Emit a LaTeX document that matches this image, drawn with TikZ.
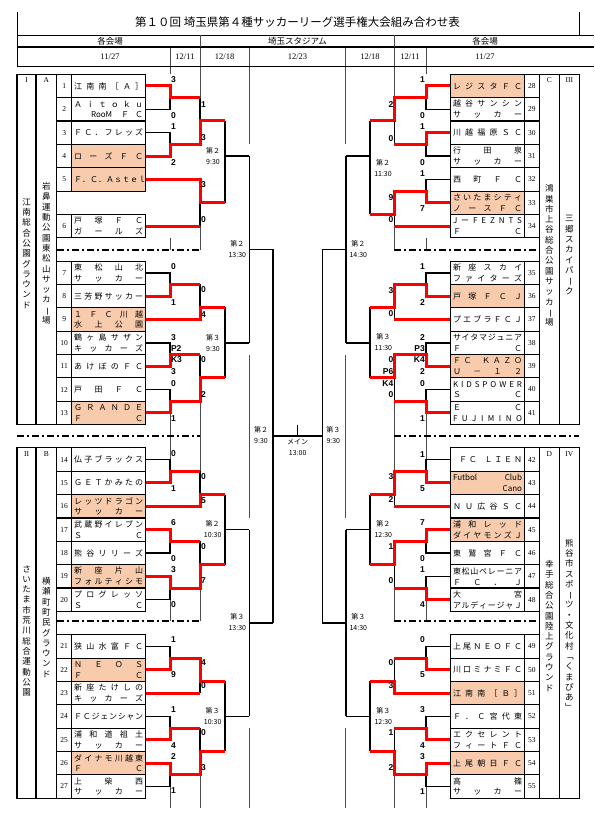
\documentclass[tikz,border=0pt]{standalone}
\usepackage{fontspec}
\setmainfont{Noto Sans CJK JP}
\newfontfamily\lsans{Liberation Sans}
\newfontfamily\lserif{Liberation Serif}
\usepackage{graphicx}
\definecolor{orng}{RGB}{248,203,173}
\newcounter{nn}
\newcommand\spr[1]{\makebox[69pt][s]{\spaceskip=0pt plus 1fil\relax #1}}
\newcommand\rb{\rotatebox[origin=c]{-90}{ー}}
\tikzset{
 nbox/.style={draw, line width=1.1pt, minimum width=15pt, minimum height=23.35pt, inner sep=0pt, font=\lserif\fontsize{7.5}{8}\selectfont},
 tbox/.style={draw, line width=1.1pt, minimum width=74pt, minimum height=23.35pt, inner sep=0pt, align=center, font=\fontsize{8}{10.8}\selectfont},
 win/.style={fill=orng},
 rl/.style={draw=red, line width=3pt, line join=miter},
 bl/.style={draw=black, line width=1.6pt},
 gl/.style={draw=black!70, line width=0.7pt},
 frm/.style={draw=black, line width=1.1pt},
 dd/.style={line width=1.3pt, dash pattern=on 7pt off 3pt on 2pt off 3pt},
 sc/.style={font=\lsans\bfseries\fontsize{8.5}{9}\selectfont, inner sep=0pt},
 tm/.style={font=\fontsize{7}{11}\selectfont, align=center, inner sep=0pt},
 vt/.style={font=\fontsize{8.5}{10.3}\selectfont, align=center, inner sep=0pt},
 lt/.style={font=\lserif\fontsize{7.5}{8}\selectfont, inner sep=0pt},
 hd/.style={font=\fontsize{8.5}{9}\selectfont, inner sep=0pt},
 dt/.style={font=\lserif\fontsize{8.5}{9}\selectfont, inner sep=0pt},
}
\newcommand\LT[4]{\node[nbox] (n#1) at (64.2,#2) {#1};\node[tbox,#3] (t#1) at (108.7,#2) {#4};}
\newcommand\RT[4]{\node[nbox] (n#1) at (531.8,#2) {#1};\node[tbox,#3] (t#1) at (487.5,#2) {#4};}
\newcommand\SW[3]{\stepcounter{nn}\node[sc,anchor=west] (s\thenn) at (#1,#2) {#3};}
\newcommand\SE[3]{\stepcounter{nn}\node[sc,anchor=east] (s\thenn) at (#1,#2) {#3};}
\newcommand\TM[4]{\stepcounter{nn}\node[tm] (m\thenn) at (#1,#2) {#3\\#4};}
\begin{document}
\begin{tikzpicture}[x=1pt,y=-1pt]
\useasboundingbox (0,0) rectangle (594,818);
\fill[white] (0,0) rectangle (594,818);
% grid lines
\draw[gl] (170,47) -- (170,74.3) (170,237.75) -- (170,250) (170,412.88) -- (170,459.58) (170,599.68) -- (170,621) (170,786.48) -- (170,808);
\draw[gl] (200,47) -- (200,97.65) (200,226.08) -- (200,250) (200,401.2) -- (200,471.25) (200,588) -- (200,621) (200,774.8) -- (200,808);
\draw[gl] (249.3,47) -- (249.3,144.35) (249.3,354.5) -- (249.3,517.95) (249.3,728.1) -- (249.3,808);
\draw[gl] (426,47) -- (426,74.3) (426,237.75) -- (426,250) (426,412.88) -- (426,459.58) (426,599.68) -- (426,621) (426,786.48) -- (426,808);
\draw[gl] (394.3,47) -- (394.3,97.65) (394.3,226.08) -- (394.3,250) (394.3,401.2) -- (394.3,471.25) (394.3,588) -- (394.3,621) (394.3,774.8) -- (394.3,808);
\draw[gl] (345.7,47) -- (345.7,144.35) (345.7,354.5) -- (345.7,517.95) (345.7,728.1) -- (345.7,808);
% header
\draw[line width=1pt] (17,12) -- (17,66);
\draw[line width=1pt] (579.3,12) -- (579.3,35.5);
\draw[line width=1.5pt] (17,35.5) -- (594,35.5) (17,47) -- (594,47);
\draw[line width=0.8pt] (17,66) -- (594,66);
\draw[gl] (200,35.5) -- (200,47) (394.3,35.5) -- (394.3,47);
\node[font=\fontsize{11.5}{13}\selectfont, inner sep=0pt] (ttl) at (297.5,22.5) {第１０回 埼玉県第４種サッカーリーグ選手権大会組み合わせ表};
\node[hd] (h1) at (110,41.3) {各会場};
\node[hd] (h2) at (297.5,41.3) {埼玉スタジアム};
\node[hd] (h3) at (485,41.3) {各会場};
\node[dt] (d1) at (110,56.5) {11/27};
\node[dt] (d2) at (185,56.5) {12/11};
\node[dt] (d3) at (224.6,56.5) {12/18};
\node[dt] (d4) at (297.5,56.5) {12/23};
\node[dt] (d5) at (370,56.5) {12/18};
\node[dt] (d6) at (410,56.5) {12/11};
\node[dt] (d7) at (485,56.5) {11/27};
% venue frames
\draw[frm] (17,74.3) rectangle (56.7,424.55) (36,74.3) -- (36,424.55);
\draw[frm] (17,447.9) rectangle (56.7,798.15) (36,447.9) -- (36,798.15);
\draw[frm] (539.3,74.3) rectangle (579.3,424.55) (559.3,74.3) -- (559.3,424.55);
\draw[frm] (539.3,447.9) rectangle (579.3,798.15) (559.3,447.9) -- (559.3,798.15);
\node[lt] (hI) at (26.5,80.5) {I};
\node[lt] (hA) at (46.3,80.5) {A};
\node[lt] (hII) at (26.5,453.8) {II};
\node[lt] (hB) at (46.3,453.8) {B};
\node[lt] (hC) at (549.3,80.5) {C};
\node[lt] (hIII) at (569.3,80.5) {III};
\node[lt] (hD) at (549.3,453.8) {D};
\node[lt] (hIV) at (569.3,453.8) {IV};
\node[vt] (vI) at (26.5,253.4) {江\\南\\総\\合\\公\\園\\グ\\ラ\\ウ\\ン\\ド};
\node[vt] (vA) at (46.3,253.4) {岩\\鼻\\運\\動\\公\\園\\東\\松\\山\\サ\\ッ\\カ\\\rb\\場};
\node[vt] (vII) at (26.5,630.8) {さ\\い\\た\\ま\\市\\荒\\川\\総\\合\\運\\動\\公\\園};
\node[vt] (vB) at (46.3,627.5) {横\\瀬\\町\\町\\民\\グ\\ラ\\ウ\\ン\\ド};
\node[vt] (vC) at (549.3,255.5) {鴻\\巣\\市\\上\\谷\\総\\合\\公\\園\\サ\\ッ\\カ\\\rb\\場};
\node[vt] (vIII) at (569.3,255) {三\\郷\\ス\\カ\\イ\\パ\\\rb\\ク};
\node[vt] (vD) at (549.3,626) {幸\\手\\総\\合\\公\\園\\陸\\上\\グ\\ラ\\ウ\\ン\\ド};
\node[vt] (vIV) at (569.3,625) {熊\\谷\\市\\ス\\ポ\\\rb\\ツ\\・\\文\\化\\村\\﹁\\く\\ま\\ぴ\\あ\\﹂};
% dash-dot separators
\draw[dd] (56.7,250) -- (200,250);
\draw[dd] (17,436) -- (200,436);
\draw[dd] (56.7,621) -- (200,621);
\draw[dd] (394.3,250) -- (539.3,250);
\draw[dd] (394.3,436) -- (579.3,436);
\draw[dd] (394.3,621) -- (539.3,621);
% teams left
\LT{1}{85.98}{}{\spr{江 南 南 ［ Ａ ］}}
\LT{2}{109.33}{}{\spr{Ａ ｉ ｔ ｏ ｋ ｕ}\\\spr{\hfill RooM\hspace{9pt}Ｆ\hspace{6pt}Ｃ}}
\LT{3}{132.68}{}{\spr{Ｆ Ｃ ． フ レ ッ ズ}}
\LT{4}{156.03}{win}{\spr{ロ ー ズ Ｆ Ｃ}}
\LT{5}{179.38}{win}{\spr{Ｆ ． Ｃ ． Ａ ｓ ｔ ｅ ｌ}}
\LT{6}{226.08}{}{\spr{戸 塚 Ｆ Ｃ}\\\spr{ガ ー ル ズ}}
\LT{7}{272.78}{}{\spr{東 松 山 北}\\\spr{サ ッ カ ー}}
\LT{8}{296.13}{}{\spr{三 芳 野 サ ッ カ ー}}
\LT{9}{319.48}{win}{\spr{１ Ｆ Ｃ 川 越}\\\spr{水 上 公 園}}
\LT{10}{342.83}{}{\spr{鶴 ヶ 島 サ ザ ン}\\\spr{キ ッ カ ー ズ}}
\LT{11}{366.18}{}{\spr{あ け ぼ の Ｆ Ｃ}}
\LT{12}{389.53}{}{\spr{戸 田 Ｆ Ｃ}}
\LT{13}{412.88}{win}{\spr{Ｇ Ｒ Ａ Ｎ Ｄ Ｅ}\\\spr{Ｆ Ｃ}}
\LT{14}{459.58}{}{\spr{仏 子 ブ ラ ッ ク ス}}
\LT{15}{482.93}{}{\spr{Ｇ Ｅ Ｔ か み た の}}
\LT{16}{506.28}{win}{\spr{レ ッ ツ ド ラ ゴ ン}\\\spr{サ ッ カ ー}}
\LT{17}{529.63}{}{\spr{武 蔵 野 イ レ ブ ン}\\\spr{Ｓ Ｃ}}
\LT{18}{552.98}{}{\spr{熊 谷 リ リ ー ズ}}
\LT{19}{576.33}{win}{\spr{新 座 片 山}\\\spr{フ ォ ル テ ィ シ モ}}
\LT{20}{599.68}{}{\spr{プ ロ グ レ ッ ソ}\\\spr{Ｓ Ｃ}}
\LT{21}{646.38}{}{\spr{狭 山 水 富 Ｆ Ｃ}}
\LT{22}{669.73}{win}{\spr{Ｎ Ｅ Ｏ Ｓ}\\\spr{Ｆ Ｃ}}
\LT{23}{693.08}{}{\spr{新 座 た け し の}\\\spr{キ ッ カ ー ズ}}
\LT{24}{716.43}{}{\spr{Ｆ Ｃ ジ ェ ン シ ャ ン}}
\LT{25}{739.78}{}{\spr{浦 和 道 祖 土}\\\spr{サ ッ カ ー}}
\LT{26}{763.13}{win}{\spr{ダ イ ナ モ 川 越 東}\\\spr{Ｆ Ｃ}}
\LT{27}{786.48}{}{\spr{上 柴 西}\\\spr{サ ッ カ ー}}
% teams right
\RT{28}{85.98}{win}{\spr{レ ジ ス タ Ｆ Ｃ}}
\RT{29}{109.33}{}{\spr{越 谷 サ ン シ ン}\\\spr{サ ッ カ ー}}
\RT{30}{132.68}{}{\spr{川 越 福 原 Ｓ Ｃ}}
\RT{31}{156.03}{}{\spr{行 田 泉}\\\spr{サ ッ カ ー}}
\RT{32}{179.38}{}{\spr{西 町 Ｆ Ｃ}}
\RT{33}{202.73}{win}{\spr{さ い た ま シ テ ィ}\\\spr{ノ ー ス Ｆ Ｃ}}
\RT{34}{226.08}{}{\spr{J ー F E Z N T S}\\\spr{Ｆ Ｃ}}
\RT{35}{272.78}{}{\spr{新 座 ス カ イ}\\\spr{フ ァ イ タ ー ズ}}
\RT{36}{296.13}{win}{\spr{戸 塚 Ｆ Ｃ Ｊ}}
\RT{37}{319.48}{}{\spr{プ エ ブ ラ Ｆ Ｃ Ｊ}}
\RT{38}{342.83}{}{\spr{サ イ タ マ ジ ュ ニ ア}\\\spr{Ｆ Ｃ}}
\RT{39}{366.18}{win}{\spr{Ｆ Ｃ\hspace{8pt} Ｋ Ａ Ｚ Ｏ}\\\spr{Ｕ － １ ２}}
\RT{40}{389.53}{}{\spr{K I D S P O W E R}\\\spr{Ｓ Ｃ}}
\RT{41}{412.88}{}{\spr{Ｅ Ｃ}\\\spr{F U J I M I N O}}
\RT{42}{459.58}{}{\spr{\hspace{6pt}Ｆ Ｃ\hspace{6pt} Ｌ Ｉ Ｅ Ｎ}}
\RT{43}{482.93}{win}{\spr{Futbol Club}\\\spr{\hfill Cano}}
\RT{44}{506.28}{}{\spr{Ｎ Ｕ 広 谷 Ｓ Ｃ}}
\RT{45}{529.63}{win}{\spr{浦 和 レ ッ ド}\\\spr{ダ イ ヤ モ ン ズ Ｊ}}
\RT{46}{552.98}{}{\spr{東 鷲 宮 Ｆ Ｃ}}
\RT{47}{576.33}{}{\spr{東 松 山 ペ レ ー ニ ア}\\\spr{Ｆ Ｃ ． Ｊ}}
\RT{48}{599.68}{}{\spr{大 宮}\\\spr{ア ル デ ィ ー ジ ャ Ｊ}}
\RT{49}{646.38}{}{\spr{上 尾 Ｎ Ｅ Ｏ Ｆ Ｃ}}
\RT{50}{669.73}{}{\spr{川 口 ミ ナ ミ Ｆ Ｃ}}
\RT{51}{693.08}{win}{\spr{江 南 南 ［ Ｂ ］}}
\RT{52}{716.43}{}{\spr{Ｆ ． Ｃ 宮 代 東}}
\RT{53}{739.78}{}{\spr{エ ク セ レ ン ト}\\\spr{フ ィ ー ト Ｆ Ｃ}}
\RT{54}{763.13}{win}{\spr{上 尾 朝 日 Ｆ Ｃ}}
\RT{55}{786.48}{}{\spr{高 篠}\\\spr{サ ッ カ ー}}
% black bracket lines left
\draw[bl] (t2.east) -| (170,97.65);
\draw[bl] (t3.east) -| (170,144.35);
\draw[bl] (200,97.65) -- (200,121);
\draw[bl] (200,202.73) -- (200,226.08);
\draw[bl] (225,121) -- (225,202.73) (225,156.03) -- (249.3,156.03);
\draw[bl] (t7.east) -| (170,284.45);
\draw[bl] (200,284.45) -- (200,307);
\draw[bl] (t10.east) -| (170,354.5);
\draw[bl] (t12.east) -| (170,401.2);
\draw[bl] (200,354.5) -- (200,377.85);
\draw[bl] (225,307) -- (225,377.85) (225,342.83) -- (249.3,342.83);
\draw[bl] (249.3,156.03) -- (249.3,342.83) (249.3,249.43) -- (272.7,249.43);
\draw[bl] (t14.east) -| (170,471.25);
\draw[bl] (200,471.25) -- (200,494.6);
\draw[bl] (t18.east) -| (170,541.3);
\draw[bl] (t20.east) -| (170,588);
\draw[bl] (200,541.3) -- (200,564.65);
\draw[bl] (225,494.6) -- (225,564.65) (225,529.63) -- (249.3,529.63);
\draw[bl] (t21.east) -| (170,658.05);
\draw[bl] (200,681.4) -- (200,693.08);
\draw[bl] (t24.east) -| (170,728.1);
\draw[bl] (t27.east) -| (170,774.8);
\draw[bl] (200,728.1) -- (200,751.45);
\draw[bl] (225,681.4) -- (225,751.45) (225,716.43) -- (249.3,716.43);
\draw[bl] (249.3,529.63) -- (249.3,716.43) (249.3,623.03) -- (272.7,623.03);
\draw[bl] (272.7,249.43) -- (272.7,623.03);
\draw[bl] (272.7,436.23) -- (322.3,436.23) (297.5,424.5) -- (297.5,436.23);
% black bracket lines right
\draw[bl] (t29.west) -| (426,97.65);
\draw[bl] (t31.west) -| (426,144.35);
\draw[bl] (394.3,121) -- (394.3,144.35);
\draw[bl] (t32.west) -| (426,191.05);
\draw[bl] (394.3,214.4) -- (394.3,226.08);
\draw[bl] (370,121) -- (370,214.4) (370,156.03) -- (345.7,156.03);
\draw[bl] (t35.west) -| (426,284.45);
\draw[bl] (394.3,307) -- (394.3,319.48);
\draw[bl] (t38.west) -| (426,354.5);
\draw[bl] (t40.west) -| (426,401.2);
\draw[bl] (394.3,377.85) -- (394.3,401.2);
\draw[bl] (370,307) -- (370,377.85) (370,342.83) -- (345.7,342.83);
\draw[bl] (345.7,156.03) -- (345.7,342.83) (345.7,249.43) -- (322.3,249.43);
\draw[bl] (t42.west) -| (426,471.25);
\draw[bl] (394.3,494.6) -- (394.3,506.28);
\draw[bl] (t46.west) -| (426,541.3);
\draw[bl] (t47.west) -| (426,588);
\draw[bl] (394.3,564.65) -- (394.3,588);
\draw[bl] (370,494.6) -- (370,564.65) (370,529.63) -- (345.7,529.63);
\draw[bl] (t49.west) -| (426,658.05);
\draw[bl] (394.3,658.05) -- (394.3,681.4);
\draw[bl] (t52.west) -| (426,728.1);
\draw[bl] (t55.west) -| (426,774.8);
\draw[bl] (394.3,728.1) -- (394.3,751.45);
\draw[bl] (370,681.4) -- (370,751.45) (370,716.43) -- (345.7,716.43);
\draw[bl] (345.7,529.63) -- (345.7,716.43) (345.7,623.03) -- (322.3,623.03);
\draw[bl] (322.3,249.43) -- (322.3,623.03);
% red winner paths left
\draw[rl] (t1.east) -| (170,97.65) -- (200,97.65);
\draw[rl] (t4.east) -| (170,144.35) -- (200,144.35) -- (200,121) -- (225,121);
\draw[rl] (t5.east) -| (200,202.73) -- (225,202.73);
\draw[rl] (t6.east) -- (200,226.08);
\draw[rl] (t8.east) -| (170,284.45) -- (200,284.45);
\draw[rl] (t9.east) -| (200,307) -- (225,307);
\draw[rl] (t11.east) -| (170,354.5) -- (200,354.5);
\draw[rl] (t13.east) -| (170,401.2) -- (200,401.2) -- (200,377.85) -- (225,377.85);
\draw[rl] (t15.east) -| (170,471.25) -- (200,471.25);
\draw[rl] (t16.east) -| (200,494.6) -- (225,494.6);
\draw[rl] (t17.east) -| (170,541.3) -- (200,541.3);
\draw[rl] (t19.east) -| (170,588) -- (200,588) -- (200,564.65) -- (225,564.65);
\draw[rl] (t22.east) -| (170,658.05) -- (200,658.05) -- (200,681.4) -- (225,681.4);
\draw[rl] (t23.east) -- (200,693.08);
\draw[rl] (t25.east) -| (170,728.1) -- (200,728.1);
\draw[rl] (t26.east) -| (170,774.8) -- (200,774.8) -- (200,751.45) -- (225,751.45);
% red winner paths right
\draw[rl] (t28.west) -| (426,97.65) -- (394.3,97.65) -- (394.3,121) -- (370,121);
\draw[rl] (t30.west) -| (426,144.35) -- (394.3,144.35);
\draw[rl] (t33.west) -| (426,191.05) -- (394.3,191.05) -- (394.3,214.4) -- (370,214.4);
\draw[rl] (t34.west) -- (394.3,226.08);
\draw[rl] (t36.west) -| (426,284.45) -- (394.3,284.45) -- (394.3,307) -- (370,307);
\draw[rl] (t37.west) -- (394.3,319.48);
\draw[rl] (t39.west) -| (426,354.5) -- (394.3,354.5) -- (394.3,377.85) -- (370,377.85);
\draw[rl] (t41.west) -| (426,401.2) -- (394.3,401.2);
\draw[rl] (t43.west) -| (426,471.25) -- (394.3,471.25) -- (394.3,494.6) -- (370,494.6);
\draw[rl] (t44.west) -- (394.3,506.28);
\draw[rl] (t45.west) -| (426,541.3) -- (394.3,541.3) -- (394.3,564.65) -- (370,564.65);
\draw[rl] (t48.west) -| (426,588) -- (394.3,588);
\draw[rl] (t50.west) -| (426,658.05) -- (394.3,658.05);
\draw[rl] (t51.west) -| (394.3,681.4) -- (370,681.4);
\draw[rl] (t53.west) -| (426,728.1) -- (394.3,728.1);
\draw[rl] (t54.west) -| (426,774.8) -- (394.3,774.8) -- (394.3,751.45) -- (370,751.45);
% scores left round 1
\SW{170.8}{79.7}{3} \SW{170.8}{115.7}{0}
\SW{170.8}{126.7}{1} \SW{170.8}{162.3}{2}
\SW{170.8}{266.7}{0} \SW{170.8}{302.7}{1}
\SW{170.8}{337.3}{3} \SW{170.8}{348.3}{P2} \SW{170.8}{360}{K3} \SW{170.8}{371.7}{3}
\SW{170.8}{383.3}{0} \SW{170.8}{419}{1}
\SW{170.8}{453.3}{0} \SW{170.8}{489}{1}
\SW{170.8}{522.7}{6} \SW{170.8}{558.3}{0}
\SW{170.8}{570}{3} \SW{170.8}{605}{0}
\SW{170.8}{640}{1} \SW{170.8}{675}{9}
\SW{170.8}{710}{1} \SW{170.8}{745.7}{4}
\SW{170.8}{756.7}{2} \SW{170.8}{791}{1}
% scores left round 2
\SW{200.8}{104.3}{1} \SW{200.8}{137.7}{3}
\SW{200.8}{184.3}{3} \SW{200.8}{220}{0}
\SW{200.8}{290}{0} \SW{200.8}{315}{4}
\SW{200.8}{360}{0} \SW{200.8}{395}{2}
\SW{200.8}{476.7}{0} \SW{200.8}{500.7}{5}
\SW{200.8}{546.7}{0} \SW{200.8}{581}{7}
\SW{200.8}{662.3}{4} \SW{200.8}{686}{0}
\SW{200.8}{732.3}{0} \SW{200.8}{767.3}{3}
% scores right round 1
\SE{425}{80}{1} \SE{425}{115.7}{0}
\SE{425}{126.7}{1} \SE{425}{162.3}{0}
\SE{425}{173.3}{1} \SE{425}{209}{7}
\SE{425}{266.7}{1} \SE{425}{302.3}{2}
\SE{425}{337.3}{2} \SE{425}{348.3}{P3} \SE{425}{359.3}{K4} \SE{425}{371.7}{2}
\SE{425}{384}{0} \SE{425}{419}{1}
\SE{425}{454.3}{1} \SE{425}{489}{5}
\SE{425}{522.7}{7} \SE{425}{558.3}{0}
\SE{425}{570}{1} \SE{425}{605}{4}
\SE{425}{640}{0} \SE{425}{675}{5}
\SE{425}{710}{3} \SE{425}{745.7}{4}
\SE{425}{756.7}{3} \SE{425}{791.7}{1}
% scores right round 2
\SE{393.5}{104.3}{2} \SE{393.5}{138.3}{0}
\SE{393.5}{197.7}{9} \SE{393.5}{220}{0}
\SE{393.5}{290.7}{3} \SE{393.5}{314}{0}
\SE{393.5}{359.3}{0} \SE{393.5}{371.7}{P6} \SE{393.5}{384}{K4} \SE{393.5}{395}{0}
\SE{393.5}{476.7}{3} \SE{393.5}{500}{2}
\SE{393.5}{546.7}{1} \SE{393.5}{581}{0}
\SE{393.5}{662.3}{0} \SE{393.5}{686}{3}
\SE{393.5}{732.3}{1} \SE{393.5}{767.3}{2}
% match times
\TM{213}{156.5}{第２}{9:30}
\TM{213}{343}{第３}{9:30}
\TM{212.7}{528.7}{第２}{10:30}
\TM{212.7}{715.9}{第３}{10:30}
\TM{237.3}{248.8}{第２}{13:30}
\TM{237.3}{621.7}{第３}{13:30}
\TM{261}{435}{第２}{9:30}
\TM{297.7}{447.8}{メイン}{13:00}
\TM{333.3}{435}{第３}{9:30}
\TM{358.3}{248.8}{第２}{14:30}
\TM{358.3}{621.7}{第３}{14:30}
\TM{383}{167.8}{第２}{11:30}
\TM{383.3}{342}{第３}{11:30}
\TM{383.3}{528.7}{第２}{12:30}
\TM{383.3}{715.9}{第３}{12:30}
\end{tikzpicture}
\end{document}
